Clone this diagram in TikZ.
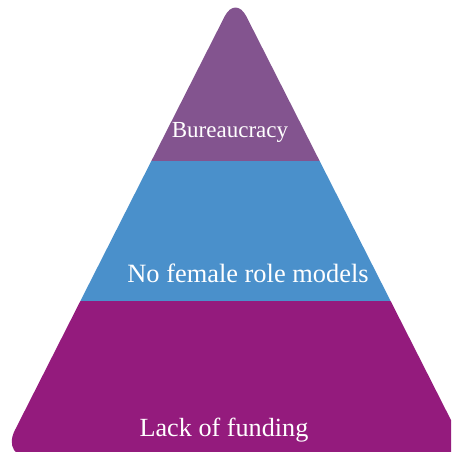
\documentclass[tikz,border=0pt]{standalone}
\usepackage{fontspec}
\setmainfont{Liberation Serif}
\definecolor{tierTop}{RGB}{131,84,143}
\definecolor{tierMid}{RGB}{74,144,203}
\definecolor{tierLow}{RGB}{148,27,125}
\begin{document}
\begin{tikzpicture}[x=1pt,y=1pt,
  tierlabel/.style={text=white, anchor=base, inner sep=0pt}]
  \useasboundingbox (0,0) rectangle (451,452);
  \coordinate (apex) at (235.5,457);
  \coordinate (bl) at (0.8,-6);
  \coordinate (br) at (470.2,-6);
  \begin{scope}
    \clip (0,0) rectangle (451,452);
    % apex rounding
    \clip[rounded corners=24pt] (apex) -- (br) -- (bl) -- cycle;
    % wider rounding for the two base corners (upper part left open)
    \clip[rounded corners=31pt] (apex) -- (br) -- (bl) -- cycle
      (-50,300) rectangle (500,500);
    \fill[tierLow] (-10,-10) rectangle (480,151);
    \fill[tierMid] (-10,151) rectangle (480,291);
    \fill[tierTop] (-10,291) rectangle (480,470);
  \end{scope}
  \node[tierlabel, font=\fontsize{23}{27}\selectfont] (top) at (230,314) {Bureaucracy};
  \node[tierlabel, font=\fontsize{26.4}{31}\selectfont] (mid) at (248,169) {No female role models};
  \node[tierlabel, font=\fontsize{26.2}{31}\selectfont] (low) at (224,15) {Lack of funding};
\end{tikzpicture}
\end{document}
